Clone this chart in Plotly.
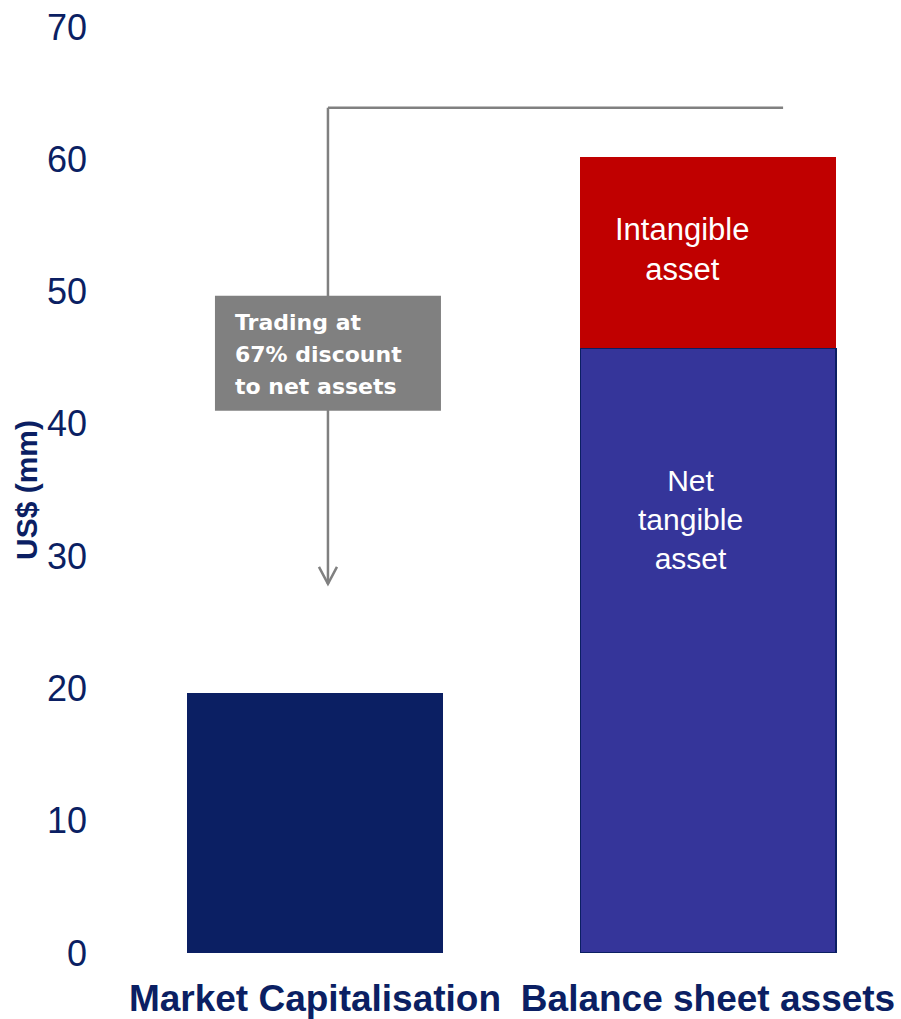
import plotly.graph_objects as go

# ---- data ----
categories = ["Market Capitalisation", "Balance sheet assets"]
market_cap = [19.6, None]
net_tangible = [None, 45.7]
intangible = [None, 14.5]
y_ticks = [0, 10, 20, 30, 40, 50, 60, 70]
bracket_top = 63.9          # level of the horizontal bracket line
arrow_tip = 27.9            # where the downward arrow ends
bracket_x = [0.033, 1.191]  # category-index positions of bracket ends
box_lines = ["Trading at", "67% discount", "to net assets"]
box_center_y = 45.3

NAVY = "#0B1F63"
BLUE = "#35359A"
RED = "#C00000"
GREY = "#808080"

fig = go.Figure()
fig.add_trace(go.Bar(x=categories, y=market_cap, marker=dict(color=NAVY, line=dict(color=NAVY, width=1.5)),
                     width=0.65, showlegend=False, hoverinfo="skip"))
fig.add_trace(go.Bar(x=categories, y=net_tangible, marker=dict(color=BLUE, line=dict(color=NAVY, width=1.5)),
                     width=0.65, showlegend=False, hoverinfo="skip"))
fig.add_trace(go.Bar(x=categories, y=intangible, marker=dict(color=RED, line=dict(color=RED, width=0)),
                     width=0.65, showlegend=False, hoverinfo="skip"))

shapes = [
    dict(type="line", xref="x", yref="y", x0=bracket_x[0], x1=bracket_x[0], y0=arrow_tip, y1=bracket_top,
         line=dict(color=GREY, width=2.5)),
    dict(type="line", xref="x", yref="y", x0=bracket_x[0], x1=bracket_x[1], y0=bracket_top, y1=bracket_top,
         line=dict(color=GREY, width=2.5)),
    dict(type="path", xref="x", yref="y", xsizemode="pixel", ysizemode="pixel",
         xanchor=bracket_x[0], yanchor=arrow_tip, path="M -9,17 L 0,0 L 9,17",
         line=dict(color=GREY, width=2.5)),
    dict(type="rect", xref="x", yref="y", xsizemode="pixel", ysizemode="pixel",
         xanchor=bracket_x[0], yanchor=box_center_y, x0=-113, x1=113, y0=-57, y1=58,
         fillcolor=GREY, line=dict(width=0)),
]

annotations = []
for i, t in enumerate(box_lines):
    annotations.append(dict(x=bracket_x[0], y=box_center_y, xref="x", yref="y", text=t,
                            showarrow=False, xanchor="left", yanchor="middle",
                            xshift=-95, yshift=31 - 32 * i,
                            font=dict(family="DejaVu Sans", size=22, color="white", weight="bold")))
annotations.append(dict(x=1, y=net_tangible[1] + intangible[1] / 2, xref="x", yref="y",
                        text="Intangible<br>asset", showarrow=False, xshift=-26, yshift=3,
                        font=dict(family="Liberation Sans, Arial", size=31, color="white")))
annotations.append(dict(x=1, y=net_tangible[1] * 0.7, xref="x", yref="y",
                        text="Net<br>tangible<br>asset", showarrow=False, xshift=-18, yshift=10,
                        font=dict(family="Liberation Sans, Arial", size=30, color="white")))

fig.update_layout(
    width=901, height=1019,
    margin=dict(l=100, r=0, t=27, b=66),
    barmode="stack",
    plot_bgcolor="white", paper_bgcolor="white",
    shapes=shapes, annotations=annotations,
    bargap=0.35,
    xaxis=dict(type="category", range=[-0.547, 1.491], showgrid=False, showline=False, zeroline=False,
               ticks="", ticklabelstandoff=20,
               tickfont=dict(family="Liberation Sans, Arial", size=37, color=NAVY, weight="bold")),
    yaxis=dict(range=[0, 70], tickvals=y_ticks, showgrid=False, showline=False, zeroline=False, ticks="",
               ticklabelstandoff=12,
               tickfont=dict(family="Liberation Sans, Arial", size=36, color=NAVY),
               title=dict(text="US$ (mm)", standoff=0,
                          font=dict(family="Liberation Sans, Arial", size=30, color=NAVY, weight="bold"))),
)

fig.write_html("out.html")
